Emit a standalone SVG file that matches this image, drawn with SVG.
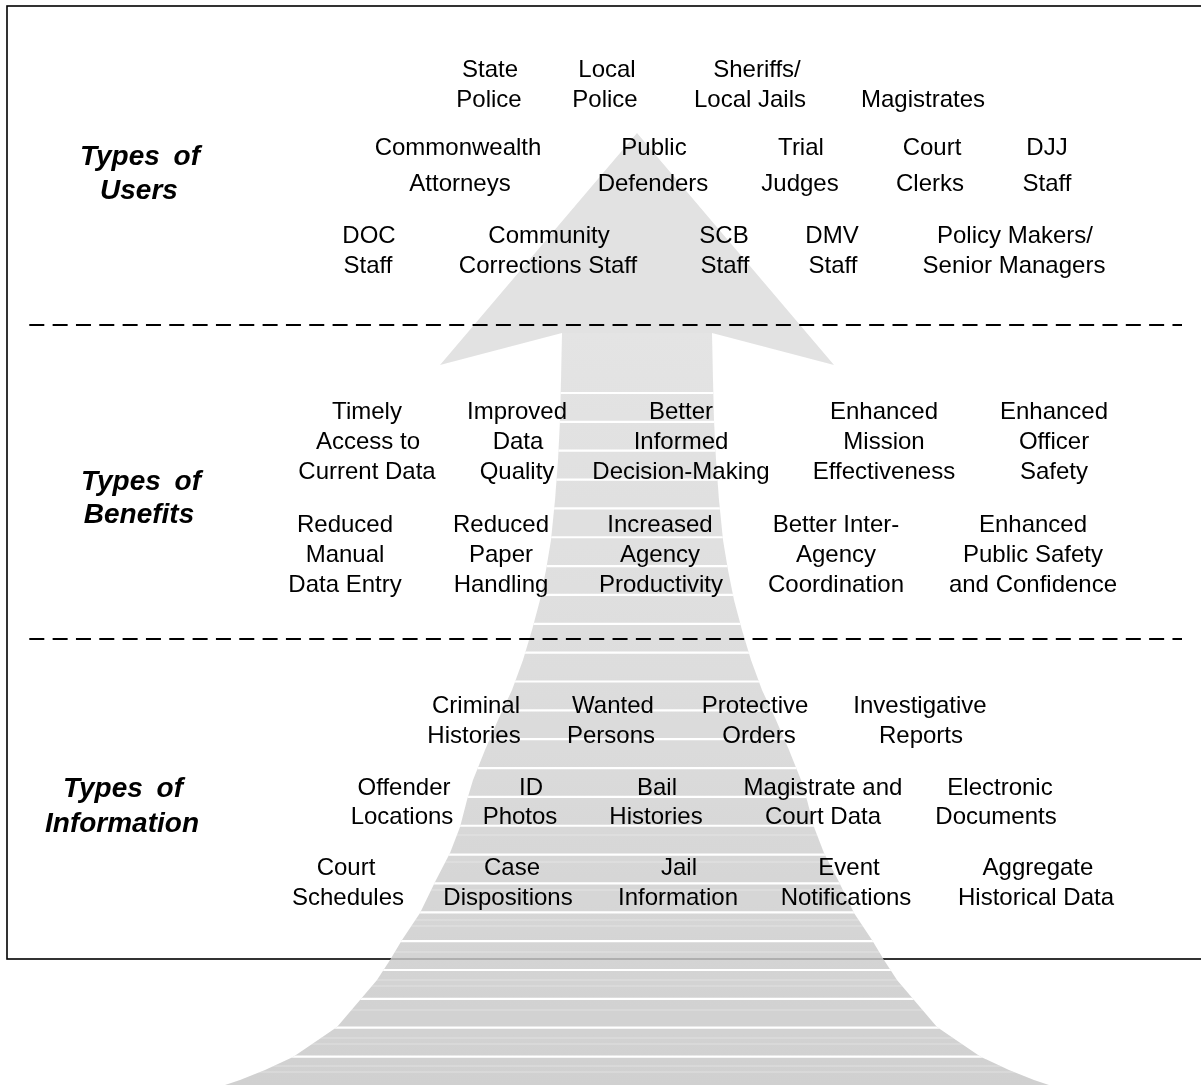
<svg xmlns="http://www.w3.org/2000/svg" width="1201" height="1085" viewBox="0 0 1201 1085">
<defs>
<style>
.t{font-family:"Liberation Sans",Arial,sans-serif;font-size:24px;fill:#000;text-anchor:middle}
.h{font-family:"Liberation Sans",Arial,sans-serif;font-size:28px;font-weight:bold;font-style:italic;fill:#000;text-anchor:middle;word-spacing:6px}
.dash{stroke:#000;stroke-width:1.8;stroke-dasharray:15 8.33;fill:none}
.stripe{stroke:#fff;stroke-width:2.2}
.faint{stroke:#fff;stroke-width:1;stroke-opacity:0.35}
</style>
<linearGradient id="shaftGrad" gradientUnits="userSpaceOnUse" x1="0" y1="333" x2="0" y2="1085">
<stop offset="0" stop-color="#dedede"/>
<stop offset="0.45" stop-color="#d6d6d6"/>
<stop offset="1" stop-color="#c6c6c6"/>
</linearGradient>
<clipPath id="shaftClip">
<path id="shaftPath" d="M562,333 L561,380 L560,420 L558,460 L555,500 L551,540 L546,570 L540,600 L532,630 L523,660 L512,690 L498,720 L485,750 L473,780 L467,800 L460,827 L450,853 L436,880 L420,913 L402,940 L390,960 L377,980 L360,1000 L337,1027 L318,1040 L293,1057 L265,1070 L240,1080 L225,1085 L1049,1085 L1034,1080 L1009,1070 L981,1057 L956,1040 L937,1027 L914,1000 L897,980 L884,960 L872,940 L854,913 L838,880 L824,853 L814,827 L807,800 L801,780 L789,750 L776,720 L762,690 L751,660 L742,630 L734,600 L728,570 L723,540 L719,500 L716,460 L714,420 L713,380 L712,333 Z"/>
</clipPath>
</defs>
<rect width="1201" height="1085" fill="#fff"/>
<g id="frame">
<rect x="7" y="6" width="1210" height="953" fill="none" stroke="#000" stroke-width="1.6"/>
</g>
<g id="big-arrow" opacity="0.82">
<polygon points="637,133 834,365 712,333 562,333 440,365" fill="#dcdcdc"/>
<g clip-path="url(#shaftClip)">
<rect x="200" y="333" width="880" height="760" fill="url(#shaftGrad)"/>
</g>
</g>
<g id="arrow-stripes" clip-path="url(#shaftClip)">
<g class="faint">
<line x1="200" y1="920" x2="1080" y2="920"/><line x1="200" y1="926" x2="1080" y2="926"/><line x1="200" y1="952" x2="1080" y2="952"/>
<line x1="200" y1="980" x2="1080" y2="980"/><line x1="200" y1="986" x2="1080" y2="986"/><line x1="200" y1="1010" x2="1080" y2="1010"/>
<line x1="200" y1="1038" x2="1080" y2="1038"/><line x1="200" y1="1044" x2="1080" y2="1044"/><line x1="200" y1="1066" x2="1080" y2="1066"/><line x1="200" y1="1072" x2="1080" y2="1072"/>
<line x1="200" y1="862" x2="1080" y2="862"/><line x1="200" y1="890" x2="1080" y2="890"/><line x1="200" y1="835" x2="1080" y2="835"/>
</g>
<g class="stripe">
<line x1="200" y1="393" x2="1080" y2="393"/>
<line x1="200" y1="421.85" x2="1080" y2="421.85"/>
<line x1="200" y1="450.7" x2="1080" y2="450.7"/>
<line x1="200" y1="479.55" x2="1080" y2="479.55"/>
<line x1="200" y1="508.4" x2="1080" y2="508.4"/>
<line x1="200" y1="537.25" x2="1080" y2="537.25"/>
<line x1="200" y1="566.1" x2="1080" y2="566.1"/>
<line x1="200" y1="594.95" x2="1080" y2="594.95"/>
<line x1="200" y1="623.8" x2="1080" y2="623.8"/>
<line x1="200" y1="652.65" x2="1080" y2="652.65"/>
<line x1="200" y1="681.5" x2="1080" y2="681.5"/>
<line x1="200" y1="710.35" x2="1080" y2="710.35"/>
<line x1="200" y1="739.2" x2="1080" y2="739.2"/>
<line x1="200" y1="768.05" x2="1080" y2="768.05"/>
<line x1="200" y1="796.9" x2="1080" y2="796.9"/>
<line x1="200" y1="825.75" x2="1080" y2="825.75"/>
<line x1="200" y1="854.6" x2="1080" y2="854.6"/>
<line x1="200" y1="883.45" x2="1080" y2="883.45"/>
<line x1="200" y1="912.3" x2="1080" y2="912.3"/>
<line x1="200" y1="941.15" x2="1080" y2="941.15"/>
<line x1="200" y1="970" x2="1080" y2="970"/>
<line x1="200" y1="998.85" x2="1080" y2="998.85"/>
<line x1="200" y1="1027.7" x2="1080" y2="1027.7"/>
<line x1="200" y1="1056.55" x2="1080" y2="1056.55"/>
</g>
</g>
<g id="dividers">
<line class="dash" x1="29.3" y1="325" x2="1182" y2="325"/>
<line class="dash" x1="29.3" y1="639" x2="1182" y2="639"/>
</g>
<g id="label-users"><text class="h" x="140" y="165">Types of</text><text class="h" x="139" y="199">Users</text></g>
<g id="label-benefits"><text class="h" x="141" y="490">Types of</text><text class="h" x="139" y="523">Benefits</text></g>
<g id="label-information"><text class="h" x="123" y="797">Types of</text><text class="h" x="122" y="832">Information</text></g>

<g id="u-state-police"><text class="t" x="490" y="77">State</text><text class="t" x="489" y="107">Police</text></g>
<g id="u-local-police"><text class="t" x="607" y="77">Local</text><text class="t" x="605" y="107">Police</text></g>
<g id="u-sheriffs"><text class="t" x="757" y="77">Sheriffs/</text><text class="t" x="750" y="107">Local Jails</text></g>
<g id="u-magistrates"><text class="t" x="923" y="107">Magistrates</text></g>
<g id="u-commonwealth"><text class="t" x="458" y="155">Commonwealth</text><text class="t" x="460" y="191">Attorneys</text></g>
<g id="u-public-defenders"><text class="t" x="654" y="155">Public</text><text class="t" x="653" y="191">Defenders</text></g>
<g id="u-trial-judges"><text class="t" x="801" y="155">Trial</text><text class="t" x="800" y="191">Judges</text></g>
<g id="u-court-clerks"><text class="t" x="932" y="155">Court</text><text class="t" x="930" y="191">Clerks</text></g>
<g id="u-djj-staff"><text class="t" x="1047" y="155">DJJ</text><text class="t" x="1047" y="191">Staff</text></g>
<g id="u-doc-staff"><text class="t" x="369" y="243">DOC</text><text class="t" x="368" y="273">Staff</text></g>
<g id="u-community-corrections"><text class="t" x="549" y="243">Community</text><text class="t" x="548" y="273">Corrections Staff</text></g>
<g id="u-scb-staff"><text class="t" x="724" y="243">SCB</text><text class="t" x="725" y="273">Staff</text></g>
<g id="u-dmv-staff"><text class="t" x="832" y="243">DMV</text><text class="t" x="833" y="273">Staff</text></g>
<g id="u-policy-makers"><text class="t" x="1015" y="243">Policy Makers/</text><text class="t" x="1014" y="273">Senior Managers</text></g>

<g id="b-timely"><text class="t" x="367" y="419">Timely</text><text class="t" x="368" y="449">Access to</text><text class="t" x="367" y="479">Current Data</text></g>
<g id="b-data-quality"><text class="t" x="517" y="419">Improved</text><text class="t" x="518" y="449">Data</text><text class="t" x="517" y="479">Quality</text></g>
<g id="b-decision"><text class="t" x="681" y="419">Better</text><text class="t" x="681" y="449">Informed</text><text class="t" x="681" y="479">Decision-Making</text></g>
<g id="b-mission"><text class="t" x="884" y="419">Enhanced</text><text class="t" x="884" y="449">Mission</text><text class="t" x="884" y="479">Effectiveness</text></g>
<g id="b-officer"><text class="t" x="1054" y="419">Enhanced</text><text class="t" x="1054" y="449">Officer</text><text class="t" x="1054" y="479">Safety</text></g>
<g id="b-manual"><text class="t" x="345" y="532">Reduced</text><text class="t" x="345" y="562">Manual</text><text class="t" x="345" y="592">Data Entry</text></g>
<g id="b-paper"><text class="t" x="501" y="532">Reduced</text><text class="t" x="501" y="562">Paper</text><text class="t" x="501" y="592">Handling</text></g>
<g id="b-productivity"><text class="t" x="660" y="532">Increased</text><text class="t" x="660" y="562">Agency</text><text class="t" x="661" y="592">Productivity</text></g>
<g id="b-coordination"><text class="t" x="836" y="532">Better Inter-</text><text class="t" x="836" y="562">Agency</text><text class="t" x="836" y="592">Coordination</text></g>
<g id="b-public-safety"><text class="t" x="1033" y="532">Enhanced</text><text class="t" x="1033" y="562">Public Safety</text><text class="t" x="1033" y="592">and Confidence</text></g>

<g id="i-criminal"><text class="t" x="476" y="713">Criminal</text><text class="t" x="474" y="743">Histories</text></g>
<g id="i-wanted"><text class="t" x="613" y="713">Wanted</text><text class="t" x="611" y="743">Persons</text></g>
<g id="i-protective"><text class="t" x="755" y="713">Protective</text><text class="t" x="759" y="743">Orders</text></g>
<g id="i-investigative"><text class="t" x="920" y="713">Investigative</text><text class="t" x="921" y="743">Reports</text></g>
<g id="i-offender"><text class="t" x="404" y="795">Offender</text><text class="t" x="402" y="824">Locations</text></g>
<g id="i-id-photos"><text class="t" x="531" y="795">ID</text><text class="t" x="520" y="824">Photos</text></g>
<g id="i-bail"><text class="t" x="657" y="795">Bail</text><text class="t" x="656" y="824">Histories</text></g>
<g id="i-magistrate-court"><text class="t" x="823" y="795">Magistrate and</text><text class="t" x="823" y="824">Court Data</text></g>
<g id="i-electronic"><text class="t" x="1000" y="795">Electronic</text><text class="t" x="996" y="824">Documents</text></g>
<g id="i-court-schedules"><text class="t" x="346" y="875">Court</text><text class="t" x="348" y="905">Schedules</text></g>
<g id="i-case"><text class="t" x="512" y="875">Case</text><text class="t" x="508" y="905">Dispositions</text></g>
<g id="i-jail"><text class="t" x="679" y="875">Jail</text><text class="t" x="678" y="905">Information</text></g>
<g id="i-event"><text class="t" x="849" y="875">Event</text><text class="t" x="846" y="905">Notifications</text></g>
<g id="i-aggregate"><text class="t" x="1038" y="875">Aggregate</text><text class="t" x="1036" y="905">Historical Data</text></g>
</svg>
